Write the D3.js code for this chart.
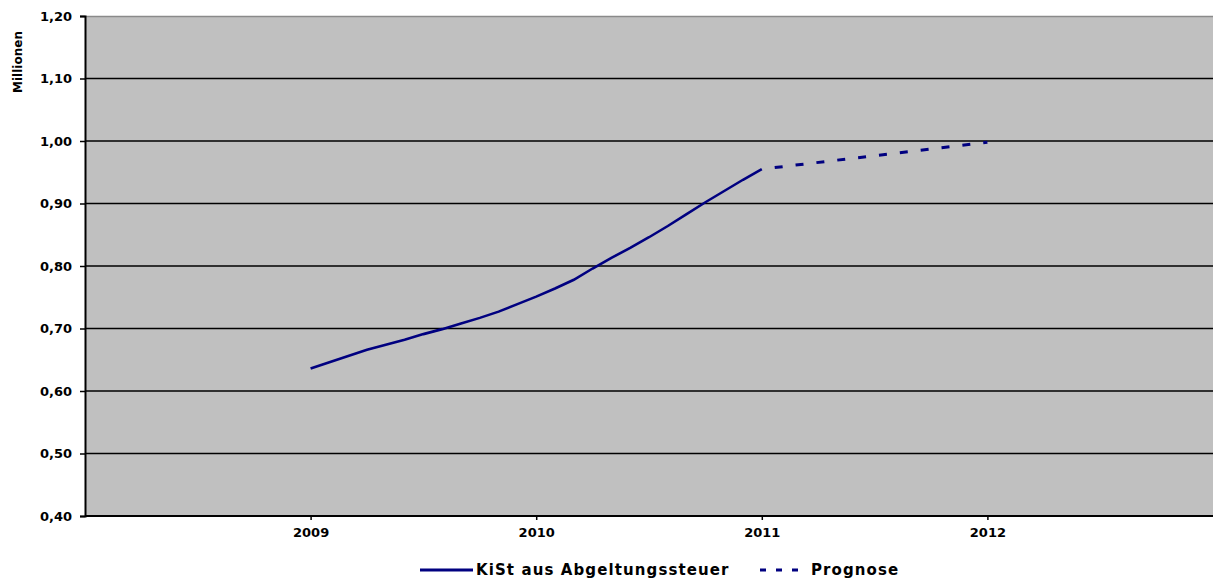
<!DOCTYPE html>
<html>
<head>
<meta charset="utf-8">
<script src="https://cdn.jsdelivr.net/npm/d3@7"></script>
<style>
  body { margin: 0; background: #fff; }
  text { font-family: "DejaVu Sans", Verdana, sans-serif; font-weight: bold; fill: #000; }
</style>
</head>
<body>
<script>
// monthly values Jan 2009 .. Jan 2011
const actualMonths = d3.range(0, 25).map(m => 2009 + m / 12);
const actualValues = [0.636, 0.646, 0.656, 0.666, 0.674, 0.682, 0.691, 0.699, 0.708, 0.717,
  0.727, 0.739, 0.751, 0.764, 0.778, 0.796, 0.813, 0.829, 0.846, 0.864, 0.883, 0.902,
  0.920, 0.938, 0.955];
const forecastYears = [2011, 2012];
const forecastValues = [0.955, 0.998];
const yearTicks = [2009, 2010, 2011, 2012];
const valueTicks = [0.4, 0.5, 0.6, 0.7, 0.8, 0.9, 1.0, 1.1, 1.2];
const seriesNames = ["KiSt aus Abgeltungssteuer", "Prognose"];
const yTitle = "Millionen";

const svgWidth = 1213, svgHeight = 580;
const margin = { top: 16, right: 0, bottom: 64, left: 85 };
const width = svgWidth - margin.left - margin.right;
const height = svgHeight - margin.top - margin.bottom;

const svg = d3.select('body').append('svg')
  .attr('width', svgWidth)
  .attr('height', svgHeight);

const xScale = d3.scaleLinear().domain([2008, 2013]).range([margin.left, margin.left + width]);
const yScale = d3.scaleLinear().domain([0.4, 1.2]).range([margin.top + height, margin.top]);

// plot area
svg.append('rect')
  .attr('x', margin.left).attr('y', margin.top)
  .attr('width', width).attr('height', height)
  .attr('fill', '#c0c0c0');
svg.append('line')
  .attr('x1', margin.left).attr('x2', margin.left + width)
  .attr('y1', margin.top + 0.5).attr('y2', margin.top + 0.5)
  .attr('stroke', '#8a8a8a').attr('stroke-width', 1.5);

// gridlines
svg.append('g')
  .selectAll('line')
  .data(valueTicks.filter(v => v > 0.4 && v < 1.2))
  .enter().append('line')
  .attr('x1', margin.left).attr('x2', margin.left + width)
  .attr('y1', d => yScale(d)).attr('y2', d => yScale(d))
  .attr('stroke', '#000').attr('stroke-width', 1.5);

// y axis
const yAxis = svg.append('g')
  .attr('transform', `translate(${margin.left}, 0)`)
  .call(d3.axisLeft(yScale).tickValues(valueTicks).tickSize(5).tickPadding(8)
    .tickFormat(d => d3.format('.2f')(d).replace('.', ',')));
yAxis.select('.domain').attr('stroke-width', 2);
yAxis.selectAll('.tick line').attr('stroke-width', 1.5);
yAxis.selectAll('text').style('font-size', '13px').style('font-family', '"DejaVu Sans", sans-serif');

// x axis
const xAxis = svg.append('g')
  .attr('transform', `translate(0, ${margin.top + height})`)
  .call(d3.axisBottom(xScale).tickValues(yearTicks).tickSize(4).tickPadding(8)
    .tickFormat(d3.format('d')));
xAxis.select('.domain').attr('stroke-width', 2).attr('d', `M${margin.left},0H${margin.left + width}`);
xAxis.selectAll('.tick line').attr('stroke-width', 1.5);
xAxis.selectAll('text').style('font-size', '13px').style('font-family', '"DejaVu Sans", sans-serif');

// y title
svg.append('text')
  .attr('transform', `translate(22, ${margin.top + 46}) rotate(-90)`)
  .attr('text-anchor', 'middle')
  .style('font-size', '12px')
  .text(yTitle);

const line = d3.line().x(d => xScale(d[0])).y(d => yScale(d[1]));

svg.append('path')
  .datum(d3.zip(actualMonths, actualValues))
  .attr('d', line)
  .attr('fill', 'none')
  .attr('stroke', '#000080')
  .attr('stroke-width', 2.6);

svg.append('path')
  .datum(d3.zip(forecastYears, forecastValues))
  .attr('d', line)
  .attr('fill', 'none')
  .attr('stroke', '#000080')
  .attr('stroke-width', 3)
  .attr('stroke-dasharray', '8,13')
  .attr('stroke-dashoffset', -13);

// legend
const legend = svg.append('g').attr('transform', 'translate(0, 570)');
legend.append('line')
  .attr('x1', 420).attr('x2', 473).attr('y1', 0).attr('y2', 0)
  .attr('stroke', '#000080').attr('stroke-width', 3);
legend.append('text')
  .attr('x', 476).attr('y', 5)
  .style('font-size', '15px')
  .style('letter-spacing', '1.1px')
  .text(seriesNames[0]);
legend.append('line')
  .attr('x1', 760).attr('x2', 808).attr('y1', 0).attr('y2', 0)
  .attr('stroke', '#000080').attr('stroke-width', 3)
  .attr('stroke-dasharray', '6,10');
legend.append('text')
  .attr('x', 811).attr('y', 5)
  .style('font-size', '15px')
  .style('letter-spacing', '1.1px')
  .text(seriesNames[1]);
</script>
</body>
</html>
